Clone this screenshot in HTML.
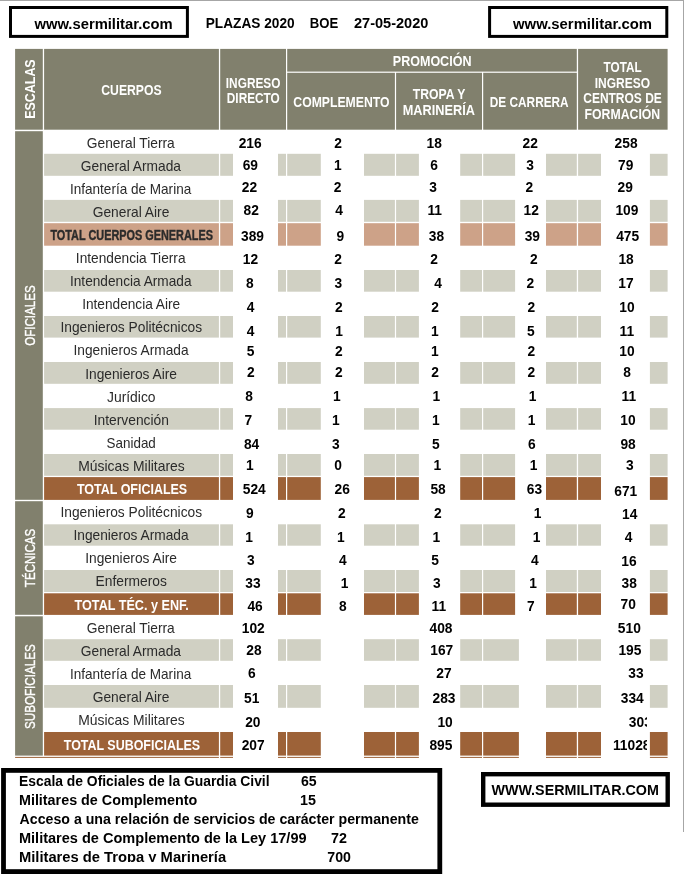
<!DOCTYPE html>
<html><head><meta charset="utf-8"><title>Plazas 2020</title>
<style>
html,body{margin:0;padding:0;background:#fff;}
body{width:686px;height:881px;overflow:hidden;}
svg{display:block;font-family:"Liberation Sans",sans-serif;}
</style></head><body>
<svg width="686" height="881" viewBox="0 0 686 881">
<rect x="0" y="0" width="686" height="881" fill="#ffffff"/>
<rect x="0.00" y="0.00" width="684.00" height="1.00" fill="#a6a6a6"/>
<rect x="683.00" y="0.00" width="1.00" height="832.00" fill="#a6a6a6"/>
<rect x="15.10" y="48.90" width="27.70" height="80.80" fill="#81806d"/>
<rect x="44.10" y="48.90" width="174.80" height="80.80" fill="#81806d"/>
<rect x="220.20" y="48.90" width="65.80" height="80.80" fill="#81806d"/>
<rect x="287.20" y="48.90" width="289.60" height="22.70" fill="#81806d"/>
<rect x="287.20" y="72.80" width="107.70" height="56.90" fill="#81806d"/>
<rect x="396.10" y="72.80" width="85.90" height="56.90" fill="#81806d"/>
<rect x="483.20" y="72.80" width="93.60" height="56.90" fill="#81806d"/>
<rect x="578.10" y="48.90" width="89.50" height="80.80" fill="#81806d"/>
<rect x="15.10" y="131.20" width="27.70" height="368.60" fill="#81806d"/>
<rect x="15.10" y="501.20" width="27.70" height="113.60" fill="#81806d"/>
<rect x="15.10" y="616.30" width="27.70" height="139.30" fill="#81806d"/>
<rect x="44.10" y="153.80" width="174.80" height="22.00" fill="#d0d0c3"/>
<rect x="220.20" y="153.80" width="65.80" height="22.00" fill="#d0d0c3"/>
<rect x="287.20" y="153.80" width="107.70" height="22.00" fill="#d0d0c3"/>
<rect x="396.10" y="153.80" width="85.90" height="22.00" fill="#d0d0c3"/>
<rect x="483.20" y="153.80" width="93.60" height="22.00" fill="#d0d0c3"/>
<rect x="578.10" y="153.80" width="89.50" height="22.00" fill="#d0d0c3"/>
<rect x="44.10" y="199.90" width="174.80" height="21.90" fill="#d0d0c3"/>
<rect x="220.20" y="199.90" width="65.80" height="21.90" fill="#d0d0c3"/>
<rect x="287.20" y="199.90" width="107.70" height="21.90" fill="#d0d0c3"/>
<rect x="396.10" y="199.90" width="85.90" height="21.90" fill="#d0d0c3"/>
<rect x="483.20" y="199.90" width="93.60" height="21.90" fill="#d0d0c3"/>
<rect x="578.10" y="199.90" width="89.50" height="21.90" fill="#d0d0c3"/>
<rect x="44.10" y="223.20" width="174.80" height="22.50" fill="#cda288"/>
<rect x="220.20" y="223.20" width="65.80" height="22.50" fill="#cda288"/>
<rect x="287.20" y="223.20" width="107.70" height="22.50" fill="#cda288"/>
<rect x="396.10" y="223.20" width="85.90" height="22.50" fill="#cda288"/>
<rect x="483.20" y="223.20" width="93.60" height="22.50" fill="#cda288"/>
<rect x="578.10" y="223.20" width="89.50" height="22.50" fill="#cda288"/>
<rect x="44.10" y="270.00" width="174.80" height="21.70" fill="#d0d0c3"/>
<rect x="220.20" y="270.00" width="65.80" height="21.70" fill="#d0d0c3"/>
<rect x="287.20" y="270.00" width="107.70" height="21.70" fill="#d0d0c3"/>
<rect x="396.10" y="270.00" width="85.90" height="21.70" fill="#d0d0c3"/>
<rect x="483.20" y="270.00" width="93.60" height="21.70" fill="#d0d0c3"/>
<rect x="578.10" y="270.00" width="89.50" height="21.70" fill="#d0d0c3"/>
<rect x="44.10" y="316.00" width="174.80" height="21.60" fill="#d0d0c3"/>
<rect x="220.20" y="316.00" width="65.80" height="21.60" fill="#d0d0c3"/>
<rect x="287.20" y="316.00" width="107.70" height="21.60" fill="#d0d0c3"/>
<rect x="396.10" y="316.00" width="85.90" height="21.60" fill="#d0d0c3"/>
<rect x="483.20" y="316.00" width="93.60" height="21.60" fill="#d0d0c3"/>
<rect x="578.10" y="316.00" width="89.50" height="21.60" fill="#d0d0c3"/>
<rect x="44.10" y="362.00" width="174.80" height="21.80" fill="#d0d0c3"/>
<rect x="220.20" y="362.00" width="65.80" height="21.80" fill="#d0d0c3"/>
<rect x="287.20" y="362.00" width="107.70" height="21.80" fill="#d0d0c3"/>
<rect x="396.10" y="362.00" width="85.90" height="21.80" fill="#d0d0c3"/>
<rect x="483.20" y="362.00" width="93.60" height="21.80" fill="#d0d0c3"/>
<rect x="578.10" y="362.00" width="89.50" height="21.80" fill="#d0d0c3"/>
<rect x="44.10" y="408.10" width="174.80" height="21.60" fill="#d0d0c3"/>
<rect x="220.20" y="408.10" width="65.80" height="21.60" fill="#d0d0c3"/>
<rect x="287.20" y="408.10" width="107.70" height="21.60" fill="#d0d0c3"/>
<rect x="396.10" y="408.10" width="85.90" height="21.60" fill="#d0d0c3"/>
<rect x="483.20" y="408.10" width="93.60" height="21.60" fill="#d0d0c3"/>
<rect x="578.10" y="408.10" width="89.50" height="21.60" fill="#d0d0c3"/>
<rect x="44.10" y="454.00" width="174.80" height="21.80" fill="#d0d0c3"/>
<rect x="220.20" y="454.00" width="65.80" height="21.80" fill="#d0d0c3"/>
<rect x="287.20" y="454.00" width="107.70" height="21.80" fill="#d0d0c3"/>
<rect x="396.10" y="454.00" width="85.90" height="21.80" fill="#d0d0c3"/>
<rect x="483.20" y="454.00" width="93.60" height="21.80" fill="#d0d0c3"/>
<rect x="578.10" y="454.00" width="89.50" height="21.80" fill="#d0d0c3"/>
<rect x="44.10" y="477.10" width="174.80" height="22.80" fill="#9d6238"/>
<rect x="220.20" y="477.10" width="65.80" height="22.80" fill="#9d6238"/>
<rect x="287.20" y="477.10" width="107.70" height="22.80" fill="#9d6238"/>
<rect x="396.10" y="477.10" width="85.90" height="22.80" fill="#9d6238"/>
<rect x="483.20" y="477.10" width="93.60" height="22.80" fill="#9d6238"/>
<rect x="578.10" y="477.10" width="89.50" height="22.80" fill="#9d6238"/>
<rect x="44.10" y="524.30" width="174.80" height="21.40" fill="#d0d0c3"/>
<rect x="220.20" y="524.30" width="65.80" height="21.40" fill="#d0d0c3"/>
<rect x="287.20" y="524.30" width="107.70" height="21.40" fill="#d0d0c3"/>
<rect x="396.10" y="524.30" width="85.90" height="21.40" fill="#d0d0c3"/>
<rect x="483.20" y="524.30" width="93.60" height="21.40" fill="#d0d0c3"/>
<rect x="578.10" y="524.30" width="89.50" height="21.40" fill="#d0d0c3"/>
<rect x="44.10" y="570.00" width="174.80" height="22.00" fill="#d0d0c3"/>
<rect x="220.20" y="570.00" width="65.80" height="22.00" fill="#d0d0c3"/>
<rect x="287.20" y="570.00" width="107.70" height="22.00" fill="#d0d0c3"/>
<rect x="396.10" y="570.00" width="85.90" height="22.00" fill="#d0d0c3"/>
<rect x="483.20" y="570.00" width="93.60" height="22.00" fill="#d0d0c3"/>
<rect x="578.10" y="570.00" width="89.50" height="22.00" fill="#d0d0c3"/>
<rect x="44.10" y="593.30" width="174.80" height="21.60" fill="#9d6238"/>
<rect x="220.20" y="593.30" width="65.80" height="21.60" fill="#9d6238"/>
<rect x="287.20" y="593.30" width="107.70" height="21.60" fill="#9d6238"/>
<rect x="396.10" y="593.30" width="85.90" height="21.60" fill="#9d6238"/>
<rect x="483.20" y="593.30" width="93.60" height="21.60" fill="#9d6238"/>
<rect x="578.10" y="593.30" width="89.50" height="21.60" fill="#9d6238"/>
<rect x="44.10" y="639.20" width="174.80" height="21.60" fill="#d0d0c3"/>
<rect x="220.20" y="639.20" width="65.80" height="21.60" fill="#d0d0c3"/>
<rect x="287.20" y="639.20" width="107.70" height="21.60" fill="#d0d0c3"/>
<rect x="396.10" y="639.20" width="85.90" height="21.60" fill="#d0d0c3"/>
<rect x="483.20" y="639.20" width="93.60" height="21.60" fill="#d0d0c3"/>
<rect x="578.10" y="639.20" width="89.50" height="21.60" fill="#d0d0c3"/>
<rect x="44.10" y="685.00" width="174.80" height="22.80" fill="#d0d0c3"/>
<rect x="220.20" y="685.00" width="65.80" height="22.80" fill="#d0d0c3"/>
<rect x="287.20" y="685.00" width="107.70" height="22.80" fill="#d0d0c3"/>
<rect x="396.10" y="685.00" width="85.90" height="22.80" fill="#d0d0c3"/>
<rect x="483.20" y="685.00" width="93.60" height="22.80" fill="#d0d0c3"/>
<rect x="578.10" y="685.00" width="89.50" height="22.80" fill="#d0d0c3"/>
<rect x="44.10" y="732.00" width="174.80" height="23.60" fill="#9d6238"/>
<rect x="220.20" y="732.00" width="65.80" height="23.60" fill="#9d6238"/>
<rect x="287.20" y="732.00" width="107.70" height="23.60" fill="#9d6238"/>
<rect x="396.10" y="732.00" width="85.90" height="23.60" fill="#9d6238"/>
<rect x="483.20" y="732.00" width="93.60" height="23.60" fill="#9d6238"/>
<rect x="578.10" y="732.00" width="89.50" height="23.60" fill="#9d6238"/>
<rect x="15.10" y="756.90" width="652.50" height="1.00" fill="#9d6238"/>
<rect x="218.90" y="756.00" width="1.30" height="2.50" fill="#fff"/>
<rect x="286.00" y="756.00" width="1.20" height="2.50" fill="#fff"/>
<rect x="394.90" y="756.00" width="1.20" height="2.50" fill="#fff"/>
<rect x="482.00" y="756.00" width="1.20" height="2.50" fill="#fff"/>
<rect x="576.80" y="756.00" width="1.30" height="2.50" fill="#fff"/>
<rect x="233.00" y="130.60" width="45.00" height="628.00" fill="#fff"/>
<rect x="320.80" y="130.60" width="43.20" height="628.00" fill="#fff"/>
<rect x="418.90" y="130.60" width="41.30" height="628.00" fill="#fff"/>
<rect x="515.10" y="130.60" width="30.90" height="484.40" fill="#fff"/>
<rect x="518.90" y="614.90" width="27.10" height="144.00" fill="#fff"/>
<rect x="601.00" y="130.60" width="48.90" height="628.00" fill="#fff"/>
<g opacity="0.999">
<text transform="translate(35.10,118.81) rotate(-90)" x="0" y="0" font-size="14.5" font-weight="bold" fill="#ffffff" textLength="59.49" lengthAdjust="spacingAndGlyphs">ESCALAS</text>
<text x="101.31" y="95.00" font-size="14" font-weight="bold" fill="#ffffff" textLength="60.32" lengthAdjust="spacingAndGlyphs">CUERPOS</text>
<text x="225.83" y="87.70" font-size="14" font-weight="bold" fill="#ffffff" textLength="54.61" lengthAdjust="spacingAndGlyphs">INGRESO</text>
<text x="226.83" y="102.70" font-size="14" font-weight="bold" fill="#ffffff" textLength="52.90" lengthAdjust="spacingAndGlyphs">DIRECTO</text>
<text x="392.79" y="66.10" font-size="14" font-weight="bold" fill="#ffffff" textLength="78.67" lengthAdjust="spacingAndGlyphs">PROMOCIÓN</text>
<text x="293.31" y="106.50" font-size="14" font-weight="bold" fill="#ffffff" textLength="96.23" lengthAdjust="spacingAndGlyphs">COMPLEMENTO</text>
<text x="412.78" y="98.60" font-size="14" font-weight="bold" fill="#ffffff" textLength="52.65" lengthAdjust="spacingAndGlyphs">TROPA Y</text>
<text x="402.77" y="114.70" font-size="14" font-weight="bold" fill="#ffffff" textLength="72.10" lengthAdjust="spacingAndGlyphs">MARINERÍA</text>
<text x="489.83" y="106.50" font-size="14" font-weight="bold" fill="#ffffff" textLength="78.83" lengthAdjust="spacingAndGlyphs">DE CARRERA</text>
<text x="603.58" y="71.90" font-size="14" font-weight="bold" fill="#ffffff" textLength="38.01" lengthAdjust="spacingAndGlyphs">TOTAL</text>
<text x="594.72" y="87.60" font-size="14" font-weight="bold" fill="#ffffff" textLength="55.32" lengthAdjust="spacingAndGlyphs">INGRESO</text>
<text x="583.22" y="102.70" font-size="14" font-weight="bold" fill="#ffffff" textLength="78.62" lengthAdjust="spacingAndGlyphs">CENTROS DE</text>
<text x="584.60" y="119.00" font-size="14" font-weight="bold" fill="#ffffff" textLength="75.61" lengthAdjust="spacingAndGlyphs">FORMACIÓN</text>
<text transform="translate(34.50,345.82) rotate(-90)" x="0" y="0" font-size="14.8" font-weight="normal" fill="#ffffff" textLength="60.43" lengthAdjust="spacingAndGlyphs" stroke="#fff" stroke-width="0.35">OFICIALES</text>
<text transform="translate(34.50,587.13) rotate(-90)" x="0" y="0" font-size="14.8" font-weight="normal" fill="#ffffff" textLength="58.21" lengthAdjust="spacingAndGlyphs" stroke="#fff" stroke-width="0.35">TÉCNICAS</text>
<text transform="translate(34.50,729.02) rotate(-90)" x="0" y="0" font-size="14.8" font-weight="normal" fill="#ffffff" textLength="84.79" lengthAdjust="spacingAndGlyphs" stroke="#fff" stroke-width="0.35">SUBOFICIALES</text>
<text x="86.81" y="147.80" font-size="14.5" font-weight="normal" fill="#2b2b2b" textLength="87.94" lengthAdjust="spacingAndGlyphs">General Tierra</text>
<text x="80.81" y="170.80" font-size="14.5" font-weight="normal" fill="#2b2b2b" textLength="100.15" lengthAdjust="spacingAndGlyphs">General Armada</text>
<text x="69.98" y="193.90" font-size="14.5" font-weight="normal" fill="#2b2b2b" textLength="121.25" lengthAdjust="spacingAndGlyphs">Infantería de Marina</text>
<text x="92.71" y="216.90" font-size="14.5" font-weight="normal" fill="#2b2b2b" textLength="76.62" lengthAdjust="spacingAndGlyphs">General Aire</text>
<text x="50.39" y="240.30" font-size="14.3" font-weight="bold" fill="#2b2b2b" textLength="162.51" lengthAdjust="spacingAndGlyphs" stroke="#2b2b2b" stroke-width="0.4">TOTAL CUERPOS GENERALES</text>
<text x="75.87" y="262.90" font-size="14.5" font-weight="normal" fill="#2b2b2b" textLength="109.67" lengthAdjust="spacingAndGlyphs">Intendencia Tierra</text>
<text x="69.97" y="285.70" font-size="14.5" font-weight="normal" fill="#2b2b2b" textLength="121.57" lengthAdjust="spacingAndGlyphs">Intendencia Armada</text>
<text x="82.17" y="308.70" font-size="14.5" font-weight="normal" fill="#2b2b2b" textLength="98.01" lengthAdjust="spacingAndGlyphs">Intendencia Aire</text>
<text x="60.46" y="331.50" font-size="14.5" font-weight="normal" fill="#2b2b2b" textLength="141.61" lengthAdjust="spacingAndGlyphs">Ingenieros Politécnicos</text>
<text x="73.47" y="354.50" font-size="14.5" font-weight="normal" fill="#2b2b2b" textLength="115.06" lengthAdjust="spacingAndGlyphs">Ingenieros Armada</text>
<text x="85.16" y="379.00" font-size="14.5" font-weight="normal" fill="#2b2b2b" textLength="91.81" lengthAdjust="spacingAndGlyphs">Ingenieros Aire</text>
<text x="106.99" y="402.00" font-size="14.5" font-weight="normal" fill="#2b2b2b" textLength="48.58" lengthAdjust="spacingAndGlyphs">Jurídico</text>
<text x="93.76" y="425.10" font-size="14.5" font-weight="normal" fill="#2b2b2b" textLength="75.11" lengthAdjust="spacingAndGlyphs">Intervención</text>
<text x="106.60" y="448.10" font-size="14.5" font-weight="normal" fill="#2b2b2b" textLength="49.21" lengthAdjust="spacingAndGlyphs">Sanidad</text>
<text x="78.19" y="470.90" font-size="14.5" font-weight="normal" fill="#2b2b2b" textLength="106.57" lengthAdjust="spacingAndGlyphs">Músicas Militares</text>
<text x="76.98" y="494.00" font-size="14.3" font-weight="bold" fill="#ffffff" textLength="110.21" lengthAdjust="spacingAndGlyphs">TOTAL OFICIALES</text>
<text x="60.46" y="516.70" font-size="14.5" font-weight="normal" fill="#2b2b2b" textLength="141.61" lengthAdjust="spacingAndGlyphs">Ingenieros Politécnicos</text>
<text x="73.47" y="539.80" font-size="14.5" font-weight="normal" fill="#2b2b2b" textLength="115.06" lengthAdjust="spacingAndGlyphs">Ingenieros Armada</text>
<text x="85.16" y="562.80" font-size="14.5" font-weight="normal" fill="#2b2b2b" textLength="91.81" lengthAdjust="spacingAndGlyphs">Ingenieros Aire</text>
<text x="95.60" y="585.90" font-size="14.5" font-weight="normal" fill="#2b2b2b" textLength="71.27" lengthAdjust="spacingAndGlyphs">Enfermeros</text>
<text x="74.57" y="609.90" font-size="14.3" font-weight="bold" fill="#ffffff" textLength="114.27" lengthAdjust="spacingAndGlyphs">TOTAL TÉC. y ENF.</text>
<text x="86.81" y="632.70" font-size="14.5" font-weight="normal" fill="#2b2b2b" textLength="87.94" lengthAdjust="spacingAndGlyphs">General Tierra</text>
<text x="80.81" y="655.80" font-size="14.5" font-weight="normal" fill="#2b2b2b" textLength="100.15" lengthAdjust="spacingAndGlyphs">General Armada</text>
<text x="69.98" y="678.80" font-size="14.5" font-weight="normal" fill="#2b2b2b" textLength="121.25" lengthAdjust="spacingAndGlyphs">Infantería de Marina</text>
<text x="92.71" y="701.90" font-size="14.5" font-weight="normal" fill="#2b2b2b" textLength="76.62" lengthAdjust="spacingAndGlyphs">General Aire</text>
<text x="78.19" y="724.70" font-size="14.5" font-weight="normal" fill="#2b2b2b" textLength="106.57" lengthAdjust="spacingAndGlyphs">Músicas Militares</text>
<text x="63.78" y="749.70" font-size="14.3" font-weight="bold" fill="#ffffff" textLength="136.36" lengthAdjust="spacingAndGlyphs">TOTAL SUBOFICIALES</text>
</g>
<text x="238.67" y="147.80" font-size="14.2" font-weight="bold" fill="#000" textLength="22.98" lengthAdjust="spacingAndGlyphs">216</text>
<text x="242.71" y="169.60" font-size="14.2" font-weight="bold" fill="#000" textLength="15.32" lengthAdjust="spacingAndGlyphs">69</text>
<text x="241.74" y="191.70" font-size="14.2" font-weight="bold" fill="#000" textLength="15.32" lengthAdjust="spacingAndGlyphs">22</text>
<text x="243.49" y="214.80" font-size="14.2" font-weight="bold" fill="#000" textLength="15.32" lengthAdjust="spacingAndGlyphs">82</text>
<text x="240.99" y="240.60" font-size="14.2" font-weight="bold" fill="#000" textLength="22.98" lengthAdjust="spacingAndGlyphs">389</text>
<text x="242.78" y="263.90" font-size="14.2" font-weight="bold" fill="#000" textLength="15.32" lengthAdjust="spacingAndGlyphs">12</text>
<text x="245.99" y="287.70" font-size="14.2" font-weight="bold" fill="#000" textLength="7.66" lengthAdjust="spacingAndGlyphs">8</text>
<text x="246.67" y="311.80" font-size="14.2" font-weight="bold" fill="#000" textLength="7.66" lengthAdjust="spacingAndGlyphs">4</text>
<text x="246.67" y="335.60" font-size="14.2" font-weight="bold" fill="#000" textLength="7.66" lengthAdjust="spacingAndGlyphs">4</text>
<text x="246.74" y="355.80" font-size="14.2" font-weight="bold" fill="#000" textLength="7.66" lengthAdjust="spacingAndGlyphs">5</text>
<text x="246.91" y="377.10" font-size="14.2" font-weight="bold" fill="#000" textLength="7.66" lengthAdjust="spacingAndGlyphs">2</text>
<text x="245.24" y="401.40" font-size="14.2" font-weight="bold" fill="#000" textLength="7.66" lengthAdjust="spacingAndGlyphs">8</text>
<text x="244.48" y="425.30" font-size="14.2" font-weight="bold" fill="#000" textLength="7.66" lengthAdjust="spacingAndGlyphs">7</text>
<text x="243.95" y="448.60" font-size="14.2" font-weight="bold" fill="#000" textLength="15.32" lengthAdjust="spacingAndGlyphs">84</text>
<text x="246.04" y="470.40" font-size="14.2" font-weight="bold" fill="#000" textLength="7.66" lengthAdjust="spacingAndGlyphs">1</text>
<text x="242.73" y="493.50" font-size="14.2" font-weight="bold" fill="#000" textLength="22.98" lengthAdjust="spacingAndGlyphs">524</text>
<text x="246.01" y="518.00" font-size="14.2" font-weight="bold" fill="#000" textLength="7.66" lengthAdjust="spacingAndGlyphs">9</text>
<text x="245.24" y="541.60" font-size="14.2" font-weight="bold" fill="#000" textLength="7.66" lengthAdjust="spacingAndGlyphs">1</text>
<text x="246.88" y="564.50" font-size="14.2" font-weight="bold" fill="#000" textLength="7.66" lengthAdjust="spacingAndGlyphs">3</text>
<text x="245.26" y="588.40" font-size="14.2" font-weight="bold" fill="#000" textLength="15.32" lengthAdjust="spacingAndGlyphs">33</text>
<text x="247.39" y="611.40" font-size="14.2" font-weight="bold" fill="#000" textLength="15.32" lengthAdjust="spacingAndGlyphs">46</text>
<text x="241.76" y="632.70" font-size="14.2" font-weight="bold" fill="#000" textLength="22.98" lengthAdjust="spacingAndGlyphs">102</text>
<text x="246.22" y="654.80" font-size="14.2" font-weight="bold" fill="#000" textLength="15.32" lengthAdjust="spacingAndGlyphs">28</text>
<text x="247.98" y="677.60" font-size="14.2" font-weight="bold" fill="#000" textLength="7.66" lengthAdjust="spacingAndGlyphs">6</text>
<text x="244.12" y="702.50" font-size="14.2" font-weight="bold" fill="#000" textLength="15.32" lengthAdjust="spacingAndGlyphs">51</text>
<text x="245.19" y="726.50" font-size="14.2" font-weight="bold" fill="#000" textLength="15.32" lengthAdjust="spacingAndGlyphs">20</text>
<text x="241.70" y="749.60" font-size="14.2" font-weight="bold" fill="#000" textLength="22.98" lengthAdjust="spacingAndGlyphs">207</text>
<text x="334.31" y="147.80" font-size="14.2" font-weight="bold" fill="#000" textLength="7.66" lengthAdjust="spacingAndGlyphs">2</text>
<text x="334.04" y="169.60" font-size="14.2" font-weight="bold" fill="#000" textLength="7.66" lengthAdjust="spacingAndGlyphs">1</text>
<text x="333.81" y="191.70" font-size="14.2" font-weight="bold" fill="#000" textLength="7.66" lengthAdjust="spacingAndGlyphs">2</text>
<text x="335.17" y="214.80" font-size="14.2" font-weight="bold" fill="#000" textLength="7.66" lengthAdjust="spacingAndGlyphs">4</text>
<text x="336.61" y="240.60" font-size="14.2" font-weight="bold" fill="#000" textLength="7.66" lengthAdjust="spacingAndGlyphs">9</text>
<text x="334.31" y="263.90" font-size="14.2" font-weight="bold" fill="#000" textLength="7.66" lengthAdjust="spacingAndGlyphs">2</text>
<text x="334.48" y="287.70" font-size="14.2" font-weight="bold" fill="#000" textLength="7.66" lengthAdjust="spacingAndGlyphs">3</text>
<text x="335.01" y="311.80" font-size="14.2" font-weight="bold" fill="#000" textLength="7.66" lengthAdjust="spacingAndGlyphs">2</text>
<text x="335.24" y="335.60" font-size="14.2" font-weight="bold" fill="#000" textLength="7.66" lengthAdjust="spacingAndGlyphs">1</text>
<text x="335.11" y="355.80" font-size="14.2" font-weight="bold" fill="#000" textLength="7.66" lengthAdjust="spacingAndGlyphs">2</text>
<text x="335.11" y="377.10" font-size="14.2" font-weight="bold" fill="#000" textLength="7.66" lengthAdjust="spacingAndGlyphs">2</text>
<text x="333.04" y="401.40" font-size="14.2" font-weight="bold" fill="#000" textLength="7.66" lengthAdjust="spacingAndGlyphs">1</text>
<text x="332.04" y="425.30" font-size="14.2" font-weight="bold" fill="#000" textLength="7.66" lengthAdjust="spacingAndGlyphs">1</text>
<text x="332.08" y="448.60" font-size="14.2" font-weight="bold" fill="#000" textLength="7.66" lengthAdjust="spacingAndGlyphs">3</text>
<text x="334.28" y="470.40" font-size="14.2" font-weight="bold" fill="#000" textLength="7.66" lengthAdjust="spacingAndGlyphs">0</text>
<text x="334.49" y="493.50" font-size="14.2" font-weight="bold" fill="#000" textLength="15.32" lengthAdjust="spacingAndGlyphs">26</text>
<text x="338.11" y="518.00" font-size="14.2" font-weight="bold" fill="#000" textLength="7.66" lengthAdjust="spacingAndGlyphs">2</text>
<text x="337.04" y="541.60" font-size="14.2" font-weight="bold" fill="#000" textLength="7.66" lengthAdjust="spacingAndGlyphs">1</text>
<text x="338.97" y="564.50" font-size="14.2" font-weight="bold" fill="#000" textLength="7.66" lengthAdjust="spacingAndGlyphs">4</text>
<text x="340.84" y="588.40" font-size="14.2" font-weight="bold" fill="#000" textLength="7.66" lengthAdjust="spacingAndGlyphs">1</text>
<text x="339.04" y="611.40" font-size="14.2" font-weight="bold" fill="#000" textLength="7.66" lengthAdjust="spacingAndGlyphs">8</text>
<text x="426.51" y="147.80" font-size="14.2" font-weight="bold" fill="#000" textLength="15.32" lengthAdjust="spacingAndGlyphs">18</text>
<text x="430.28" y="169.60" font-size="14.2" font-weight="bold" fill="#000" textLength="7.66" lengthAdjust="spacingAndGlyphs">6</text>
<text x="429.18" y="191.70" font-size="14.2" font-weight="bold" fill="#000" textLength="7.66" lengthAdjust="spacingAndGlyphs">3</text>
<text x="427.39" y="214.80" font-size="14.2" font-weight="bold" fill="#000" textLength="14.56" lengthAdjust="spacingAndGlyphs">11</text>
<text x="428.79" y="240.60" font-size="14.2" font-weight="bold" fill="#000" textLength="15.32" lengthAdjust="spacingAndGlyphs">38</text>
<text x="430.31" y="263.90" font-size="14.2" font-weight="bold" fill="#000" textLength="7.66" lengthAdjust="spacingAndGlyphs">2</text>
<text x="434.17" y="287.70" font-size="14.2" font-weight="bold" fill="#000" textLength="7.66" lengthAdjust="spacingAndGlyphs">4</text>
<text x="431.31" y="311.80" font-size="14.2" font-weight="bold" fill="#000" textLength="7.66" lengthAdjust="spacingAndGlyphs">2</text>
<text x="431.04" y="335.60" font-size="14.2" font-weight="bold" fill="#000" textLength="7.66" lengthAdjust="spacingAndGlyphs">1</text>
<text x="431.04" y="355.80" font-size="14.2" font-weight="bold" fill="#000" textLength="7.66" lengthAdjust="spacingAndGlyphs">1</text>
<text x="431.31" y="377.10" font-size="14.2" font-weight="bold" fill="#000" textLength="7.66" lengthAdjust="spacingAndGlyphs">2</text>
<text x="432.54" y="401.40" font-size="14.2" font-weight="bold" fill="#000" textLength="7.66" lengthAdjust="spacingAndGlyphs">1</text>
<text x="432.04" y="425.30" font-size="14.2" font-weight="bold" fill="#000" textLength="7.66" lengthAdjust="spacingAndGlyphs">1</text>
<text x="432.04" y="448.60" font-size="14.2" font-weight="bold" fill="#000" textLength="7.66" lengthAdjust="spacingAndGlyphs">5</text>
<text x="433.54" y="470.40" font-size="14.2" font-weight="bold" fill="#000" textLength="7.66" lengthAdjust="spacingAndGlyphs">1</text>
<text x="430.42" y="493.50" font-size="14.2" font-weight="bold" fill="#000" textLength="15.32" lengthAdjust="spacingAndGlyphs">58</text>
<text x="434.11" y="518.00" font-size="14.2" font-weight="bold" fill="#000" textLength="7.66" lengthAdjust="spacingAndGlyphs">2</text>
<text x="432.54" y="541.60" font-size="14.2" font-weight="bold" fill="#000" textLength="7.66" lengthAdjust="spacingAndGlyphs">1</text>
<text x="431.24" y="564.50" font-size="14.2" font-weight="bold" fill="#000" textLength="7.66" lengthAdjust="spacingAndGlyphs">5</text>
<text x="432.88" y="588.40" font-size="14.2" font-weight="bold" fill="#000" textLength="7.66" lengthAdjust="spacingAndGlyphs">3</text>
<text x="431.59" y="611.40" font-size="14.2" font-weight="bold" fill="#000" textLength="14.56" lengthAdjust="spacingAndGlyphs">11</text>
<text x="429.50" y="632.70" font-size="14.2" font-weight="bold" fill="#000" textLength="22.98" lengthAdjust="spacingAndGlyphs">408</text>
<text x="430.30" y="654.80" font-size="14.2" font-weight="bold" fill="#000" textLength="22.98" lengthAdjust="spacingAndGlyphs">167</text>
<text x="436.32" y="677.60" font-size="14.2" font-weight="bold" fill="#000" textLength="15.32" lengthAdjust="spacingAndGlyphs">27</text>
<text x="432.47" y="702.50" font-size="14.2" font-weight="bold" fill="#000" textLength="22.98" lengthAdjust="spacingAndGlyphs">283</text>
<text x="437.38" y="726.50" font-size="14.2" font-weight="bold" fill="#000" textLength="15.32" lengthAdjust="spacingAndGlyphs">10</text>
<text x="429.40" y="749.60" font-size="14.2" font-weight="bold" fill="#000" textLength="22.98" lengthAdjust="spacingAndGlyphs">895</text>
<text x="522.59" y="147.80" font-size="14.2" font-weight="bold" fill="#000" textLength="15.32" lengthAdjust="spacingAndGlyphs">22</text>
<text x="526.18" y="169.60" font-size="14.2" font-weight="bold" fill="#000" textLength="7.66" lengthAdjust="spacingAndGlyphs">3</text>
<text x="525.41" y="191.70" font-size="14.2" font-weight="bold" fill="#000" textLength="7.66" lengthAdjust="spacingAndGlyphs">2</text>
<text x="523.58" y="214.80" font-size="14.2" font-weight="bold" fill="#000" textLength="15.32" lengthAdjust="spacingAndGlyphs">12</text>
<text x="524.66" y="240.60" font-size="14.2" font-weight="bold" fill="#000" textLength="15.32" lengthAdjust="spacingAndGlyphs">39</text>
<text x="530.11" y="263.90" font-size="14.2" font-weight="bold" fill="#000" textLength="7.66" lengthAdjust="spacingAndGlyphs">2</text>
<text x="526.41" y="287.70" font-size="14.2" font-weight="bold" fill="#000" textLength="7.66" lengthAdjust="spacingAndGlyphs">2</text>
<text x="527.41" y="311.80" font-size="14.2" font-weight="bold" fill="#000" textLength="7.66" lengthAdjust="spacingAndGlyphs">2</text>
<text x="527.04" y="335.60" font-size="14.2" font-weight="bold" fill="#000" textLength="7.66" lengthAdjust="spacingAndGlyphs">5</text>
<text x="527.41" y="355.80" font-size="14.2" font-weight="bold" fill="#000" textLength="7.66" lengthAdjust="spacingAndGlyphs">2</text>
<text x="527.41" y="377.10" font-size="14.2" font-weight="bold" fill="#000" textLength="7.66" lengthAdjust="spacingAndGlyphs">2</text>
<text x="528.84" y="401.40" font-size="14.2" font-weight="bold" fill="#000" textLength="7.66" lengthAdjust="spacingAndGlyphs">1</text>
<text x="527.84" y="425.30" font-size="14.2" font-weight="bold" fill="#000" textLength="7.66" lengthAdjust="spacingAndGlyphs">1</text>
<text x="528.08" y="448.60" font-size="14.2" font-weight="bold" fill="#000" textLength="7.66" lengthAdjust="spacingAndGlyphs">6</text>
<text x="529.84" y="470.40" font-size="14.2" font-weight="bold" fill="#000" textLength="7.66" lengthAdjust="spacingAndGlyphs">1</text>
<text x="526.76" y="493.50" font-size="14.2" font-weight="bold" fill="#000" textLength="15.32" lengthAdjust="spacingAndGlyphs">63</text>
<text x="533.84" y="518.00" font-size="14.2" font-weight="bold" fill="#000" textLength="7.66" lengthAdjust="spacingAndGlyphs">1</text>
<text x="532.84" y="541.60" font-size="14.2" font-weight="bold" fill="#000" textLength="7.66" lengthAdjust="spacingAndGlyphs">1</text>
<text x="530.97" y="564.50" font-size="14.2" font-weight="bold" fill="#000" textLength="7.66" lengthAdjust="spacingAndGlyphs">4</text>
<text x="529.34" y="588.40" font-size="14.2" font-weight="bold" fill="#000" textLength="7.66" lengthAdjust="spacingAndGlyphs">1</text>
<text x="527.08" y="611.40" font-size="14.2" font-weight="bold" fill="#000" textLength="7.66" lengthAdjust="spacingAndGlyphs">7</text>
<text x="614.60" y="147.80" font-size="14.2" font-weight="bold" fill="#000" textLength="22.98" lengthAdjust="spacingAndGlyphs">258</text>
<text x="618.12" y="169.60" font-size="14.2" font-weight="bold" fill="#000" textLength="15.32" lengthAdjust="spacingAndGlyphs">79</text>
<text x="617.49" y="191.70" font-size="14.2" font-weight="bold" fill="#000" textLength="15.32" lengthAdjust="spacingAndGlyphs">29</text>
<text x="615.46" y="214.80" font-size="14.2" font-weight="bold" fill="#000" textLength="22.98" lengthAdjust="spacingAndGlyphs">109</text>
<text x="616.20" y="240.60" font-size="14.2" font-weight="bold" fill="#000" textLength="22.98" lengthAdjust="spacingAndGlyphs">475</text>
<text x="618.41" y="263.90" font-size="14.2" font-weight="bold" fill="#000" textLength="15.32" lengthAdjust="spacingAndGlyphs">18</text>
<text x="618.32" y="287.70" font-size="14.2" font-weight="bold" fill="#000" textLength="15.32" lengthAdjust="spacingAndGlyphs">17</text>
<text x="619.28" y="311.80" font-size="14.2" font-weight="bold" fill="#000" textLength="15.32" lengthAdjust="spacingAndGlyphs">10</text>
<text x="619.59" y="335.60" font-size="14.2" font-weight="bold" fill="#000" textLength="14.56" lengthAdjust="spacingAndGlyphs">11</text>
<text x="619.28" y="355.80" font-size="14.2" font-weight="bold" fill="#000" textLength="15.32" lengthAdjust="spacingAndGlyphs">10</text>
<text x="623.24" y="377.10" font-size="14.2" font-weight="bold" fill="#000" textLength="7.66" lengthAdjust="spacingAndGlyphs">8</text>
<text x="621.59" y="401.40" font-size="14.2" font-weight="bold" fill="#000" textLength="14.56" lengthAdjust="spacingAndGlyphs">11</text>
<text x="620.28" y="425.30" font-size="14.2" font-weight="bold" fill="#000" textLength="15.32" lengthAdjust="spacingAndGlyphs">10</text>
<text x="620.42" y="448.60" font-size="14.2" font-weight="bold" fill="#000" textLength="15.32" lengthAdjust="spacingAndGlyphs">98</text>
<text x="625.88" y="470.40" font-size="14.2" font-weight="bold" fill="#000" textLength="7.66" lengthAdjust="spacingAndGlyphs">3</text>
<text x="614.26" y="495.70" font-size="14.2" font-weight="bold" fill="#000" textLength="22.98" lengthAdjust="spacingAndGlyphs">671</text>
<text x="622.04" y="518.50" font-size="14.2" font-weight="bold" fill="#000" textLength="15.32" lengthAdjust="spacingAndGlyphs">14</text>
<text x="624.87" y="541.60" font-size="14.2" font-weight="bold" fill="#000" textLength="7.66" lengthAdjust="spacingAndGlyphs">4</text>
<text x="621.28" y="565.50" font-size="14.2" font-weight="bold" fill="#000" textLength="15.32" lengthAdjust="spacingAndGlyphs">16</text>
<text x="621.49" y="588.40" font-size="14.2" font-weight="bold" fill="#000" textLength="15.32" lengthAdjust="spacingAndGlyphs">38</text>
<text x="620.62" y="609.40" font-size="14.2" font-weight="bold" fill="#000" textLength="15.32" lengthAdjust="spacingAndGlyphs">70</text>
<text x="617.87" y="632.70" font-size="14.2" font-weight="bold" fill="#000" textLength="22.98" lengthAdjust="spacingAndGlyphs">510</text>
<text x="618.39" y="654.80" font-size="14.2" font-weight="bold" fill="#000" textLength="22.98" lengthAdjust="spacingAndGlyphs">195</text>
<text x="628.36" y="677.60" font-size="14.2" font-weight="bold" fill="#000" textLength="15.32" lengthAdjust="spacingAndGlyphs">33</text>
<text x="620.80" y="702.50" font-size="14.2" font-weight="bold" fill="#000" textLength="22.98" lengthAdjust="spacingAndGlyphs">334</text>
<clipPath id="cp"><rect x="600" y="700" width="46.9" height="60"/></clipPath>
<g clip-path="url(#cp)">
<text x="628.82" y="726.50" font-size="14.2" font-weight="bold" fill="#000" textLength="22.98" lengthAdjust="spacingAndGlyphs">303</text>
<text x="612.97" y="749.60" font-size="14.2" font-weight="bold" fill="#000" textLength="37.54" lengthAdjust="spacingAndGlyphs">11028</text>
</g>
<rect x="10.50" y="7.50" width="176.90" height="28.90" fill="#fff" stroke="#000" stroke-width="3.0"/>
<rect x="489.60" y="7.50" width="177.20" height="28.90" fill="#fff" stroke="#000" stroke-width="3.0"/>
<text x="34.47" y="28.90" font-size="14.5" font-weight="bold" fill="#000" textLength="138.12" lengthAdjust="spacingAndGlyphs">www.sermilitar.com</text>
<text x="513.07" y="29.00" font-size="14.5" font-weight="bold" fill="#000" textLength="139.02" lengthAdjust="spacingAndGlyphs">www.sermilitar.com</text>
<text x="205.71" y="28.00" font-size="14.5" font-weight="bold" fill="#000" textLength="88.90" lengthAdjust="spacingAndGlyphs">PLAZAS 2020</text>
<text x="309.85" y="28.00" font-size="14.5" font-weight="bold" fill="#000" textLength="28.44" lengthAdjust="spacingAndGlyphs">BOE</text>
<text x="353.96" y="28.00" font-size="14.5" font-weight="bold" fill="#000" textLength="74.45" lengthAdjust="spacingAndGlyphs">27-05-2020</text>
<rect x="3.50" y="770.40" width="436.30" height="101.20" fill="#fff" stroke="#000" stroke-width="4.8"/>
<rect x="483.20" y="774.20" width="184.50" height="30.50" fill="#fff" stroke="#000" stroke-width="4.4"/>
<text x="491.40" y="794.60" font-size="14.5" font-weight="bold" fill="#000" textLength="167.48" lengthAdjust="spacingAndGlyphs">WWW.SERMILITAR.COM</text>
<clipPath id="cb"><rect x="5.9" y="772.8" width="430.3" height="89.2"/></clipPath><g clip-path="url(#cb)">
<text x="19.00" y="785.90" font-size="14" font-weight="bold" fill="#000" textLength="250.56" lengthAdjust="spacingAndGlyphs">Escala de Oficiales de la Guardia Civil</text>
<text x="300.91" y="785.90" font-size="14" font-weight="bold" fill="#000" textLength="15.68" lengthAdjust="spacingAndGlyphs">65</text>
<text x="18.97" y="804.80" font-size="14" font-weight="bold" fill="#000" textLength="178.36" lengthAdjust="spacingAndGlyphs">Militares de Complemento</text>
<text x="299.94" y="804.80" font-size="14" font-weight="bold" fill="#000" textLength="15.95" lengthAdjust="spacingAndGlyphs">15</text>
<text x="19.55" y="823.70" font-size="14" font-weight="bold" fill="#000" textLength="399.29" lengthAdjust="spacingAndGlyphs">Acceso a una relación de servicios de carácter permanente</text>
<text x="18.95" y="842.60" font-size="14" font-weight="bold" fill="#000" textLength="287.65" lengthAdjust="spacingAndGlyphs">Militares de Complemento de la Ley 17/99</text>
<text x="331.03" y="842.60" font-size="14" font-weight="bold" fill="#000" textLength="15.91" lengthAdjust="spacingAndGlyphs">72</text>
<text x="18.94" y="861.70" font-size="14" font-weight="bold" fill="#000" textLength="207.22" lengthAdjust="spacingAndGlyphs">Militares de Tropa y Marinería</text>
<text x="327.33" y="861.70" font-size="14" font-weight="bold" fill="#000" textLength="23.61" lengthAdjust="spacingAndGlyphs">700</text>
</g>
</svg>
</body></html>
